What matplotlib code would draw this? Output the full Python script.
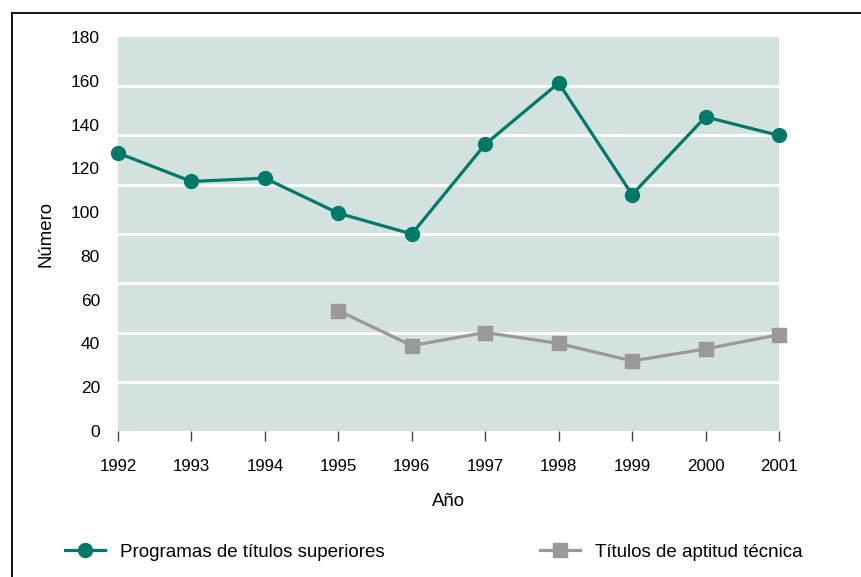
import matplotlib
matplotlib.use("Agg")
import matplotlib.pyplot as plt
from matplotlib.lines import Line2D
import numpy as np

plt.rcParams['font.family'] = ['Liberation Sans', 'DejaVu Sans']

years = [1992, 1993, 1994, 1995, 1996, 1997, 1998, 1999, 2000, 2001]
programas = [127, 114, 115.5, 99.5, 90, 131, 159, 108, 143.5, 135]
years_tec = [1995, 1996, 1997, 1998, 1999, 2000, 2001]
titulos_tec = [55, 39, 45, 40, 32, 37.5, 44]

green = '#00796B'
grey = '#999999'
bg = '#D4E2DF'

fig = plt.figure(figsize=(8.61, 5.77), dpi=100)

# outer frame (top and left edges visible)
fig.add_artist(Line2D([11.5 / 861, 1], [1 - 12.5 / 577, 1 - 12.5 / 577],
                      transform=fig.transFigure, color='black', lw=1.3))
fig.add_artist(Line2D([11.5 / 861, 11.5 / 861], [0, 1 - 12.5 / 577],
                      transform=fig.transFigure, color='black', lw=1.3))

ax = fig.add_axes([118 / 861, (577 - 431) / 577, 661 / 861, 394 / 577])
ax.set_facecolor(bg)
for s in ax.spines.values():
    s.set_visible(False)

ax.set_xlim(1992, 2001)
ax.set_ylim(0, 180)

# white gridlines (drawn at eighths of the range)
for g in np.arange(22.5, 180, 22.5):
    ax.axhline(g, color='white', lw=2, zorder=1)

ax.plot(years, programas, color=green, lw=2.3, marker='o', ms=10,
        clip_on=False, zorder=3)
ax.plot(years_tec, titulos_tec, color=grey, lw=2.3, marker='s', ms=10,
        clip_on=False, zorder=3)

ax.set_xticks(years)
ax.set_xticklabels([str(y) for y in years], fontsize=12.2)
ax.tick_params(axis='x', length=7, width=1, color='#444444', pad=13,
               direction='out')

yt = list(range(0, 181, 20))
ax.set_yticks(yt)
ax.set_yticklabels([str(v) for v in yt], fontsize=12.5)
ax.tick_params(axis='y', length=0, pad=13)

ax.set_xlabel('Año', fontsize=13.4, labelpad=14)
ax.set_ylabel('Número', fontsize=13.4, labelpad=12)

handles = [
    Line2D([], [], color=green, lw=2.3, marker='o', ms=10),
    Line2D([], [], color=grey, lw=2.3, marker='s', ms=10),
]
fig.legend(handles[:1], ['Programas de títulos superiores'],
           loc='center left', bbox_to_anchor=(48 / 861, 1 - 552 / 577),
           frameon=False, fontsize=13.5, handlelength=2.16, handletextpad=0.8)
fig.legend(handles[1:], ['Títulos de aptitud técnica'],
           loc='center left', bbox_to_anchor=(523 / 861, 1 - 552 / 577),
           frameon=False, fontsize=13.5, handlelength=2.16, handletextpad=0.8)

fig.savefig('out.png', dpi=100)
